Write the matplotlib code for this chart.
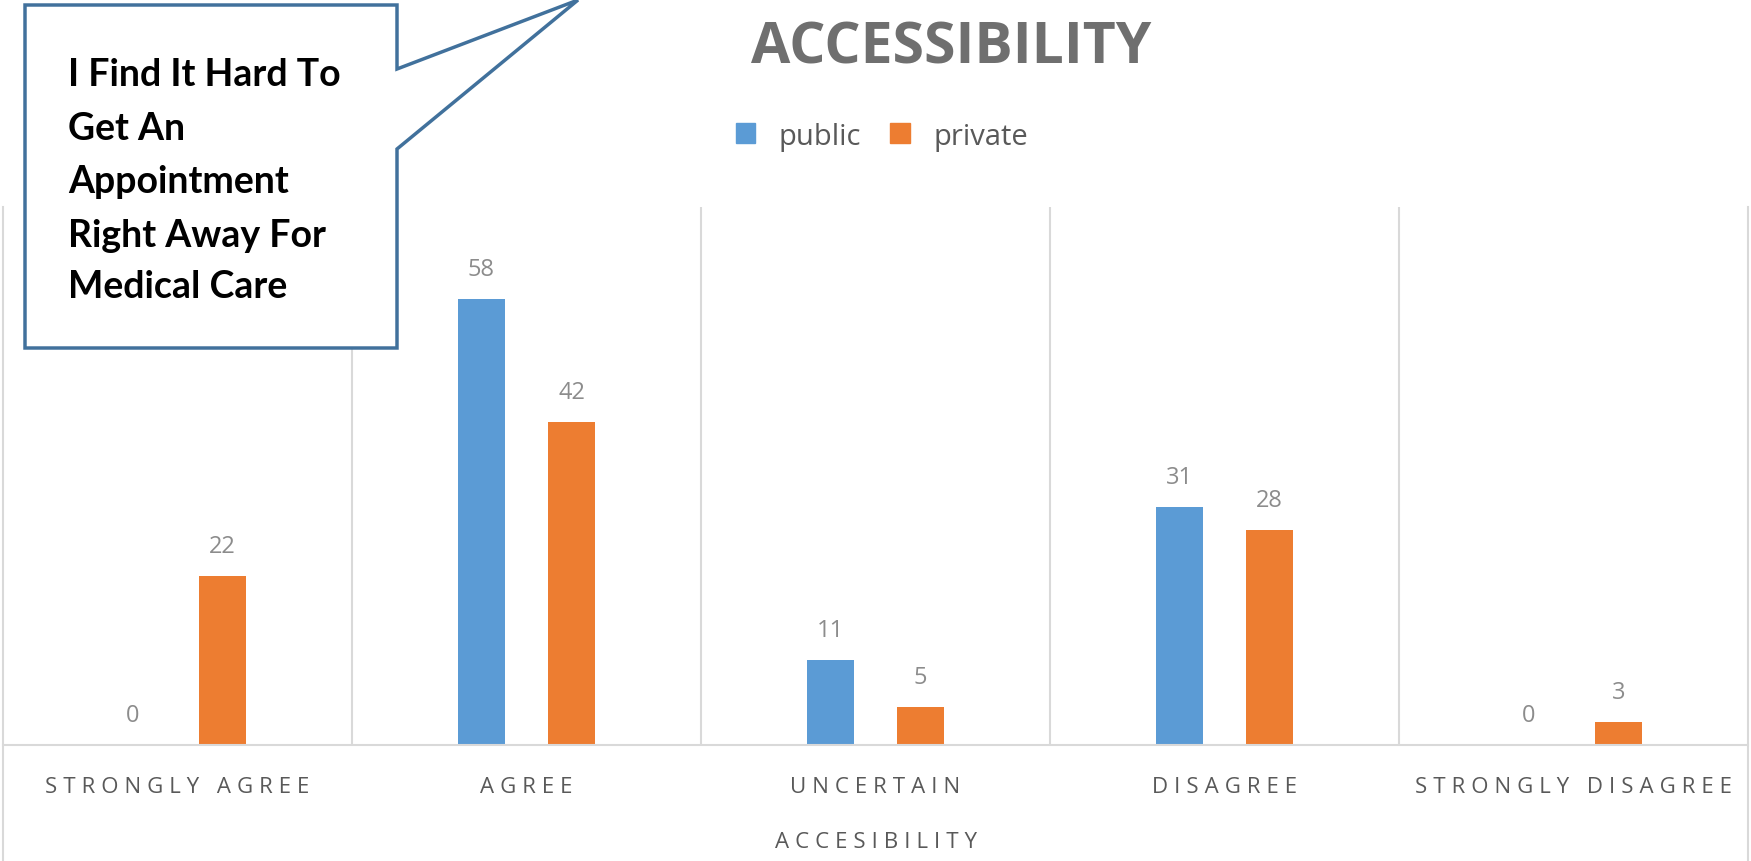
import matplotlib
matplotlib.use("Agg")
import matplotlib.pyplot as plt
from matplotlib.patches import Polygon, Patch
from matplotlib.lines import Line2D
import numpy as np

# data
categories = ["STRONGLY AGREE", "AGREE", "UNCERTAIN", "DISAGREE", "STRONGLY DISAGREE"]
public = [0, 58, 11, 31, 0]
private = [22, 42, 5, 28, 3]
series_names = ["public", "private"]
callout_lines = ["I Find It Hard To", "Get An", "Appointment", "Right Away For", "Medical Care"]

BLUE = "#5b9bd5"
ORANGE = "#ed7d31"
GRID = "#d9d9d9"
W, H = 1751, 862


def spaced(s, sep="\u2009\u200a"):
    # poor man's letter spacing
    return sep.join(list(s))


def fx(x):
    return x / W


def fy(y):
    return 1 - y / H


fig = plt.figure(figsize=(W / 100, H / 100), dpi=100)
ax = fig.add_axes([fx(3), fy(746), fx(1748) - fx(3), fy(208) - fy(746)])

x = np.arange(len(categories))
bw = 0.135
off = 0.129
b1 = ax.bar(x - off, public, bw, color=BLUE, zorder=2)
b2 = ax.bar(x + off, private, bw, color=ORANGE, zorder=2)

for bars, vals in ((b1, public), (b2, private)):
    for r, v in zip(bars, vals):
        ax.annotate(str(v), (r.get_x() + r.get_width() / 2, v), xytext=(0, 13),
                    textcoords="offset points", ha="center", va="bottom",
                    fontsize=17, color="#8c8c8c", family="Open Sans")

ax.set_xlim(-0.5, len(categories) - 0.5)
ax.set_ylim(0, 70)
ax.set_yticks([])
ax.set_xticks(x)
ax.set_xticklabels([spaced(c) for c in categories], fontsize=16, color="#595959",
                   family=["Open Sans", "DejaVu Sans"])
ax.tick_params(axis="x", length=0, pad=22)
for s in ["top", "left", "right"]:
    ax.spines[s].set_visible(False)
ax.spines["bottom"].set_color(GRID)
ax.spines["bottom"].set_linewidth(1.5)

# category separators
for b in np.arange(1, len(categories)) - 0.5:
    ax.axvline(b, color=GRID, lw=1.5, zorder=1)

# chart border pieces at the edges
fig.add_artist(Line2D([fx(3), fx(3)], [0, fy(208)], color=GRID, lw=1.5))
fig.add_artist(Line2D([fx(1748), fx(1748)], [0, fy(208)], color=GRID, lw=1.5))

ax.set_xlabel(spaced("ACCESIBILITY"), fontsize=16, color="#595959",
              family=["Open Sans", "DejaVu Sans"], labelpad=25)

fig.text(0.543, fy(49), "ACCESSIBILITY", ha="center", va="center", fontsize=41,
         fontweight="bold", color="#6f6f6f", family="Open Sans")

handles = [Patch(color=BLUE), Patch(color=ORANGE)]
fig.legend(handles, series_names, loc="center", bbox_to_anchor=(fx(882), fy(137)),
           ncol=2, frameon=False, handlelength=0.68, handleheight=0.68,
           handletextpad=0.8, columnspacing=1.0, labelcolor="#595959",
           prop={"family": "Open Sans", "size": 21})

# speech bubble callout
pts = [(25, 6), (397, 6), (397, 70), (578, 1), (397, 150), (397, 349), (25, 349)]
fig.add_artist(Polygon([(fx(a), fy(b)) for a, b in pts], closed=True,
                       facecolor="white", edgecolor="#41719c", lw=2.5, zorder=5))
line_y = [75, 129, 182, 236, 287]
for t, yy in zip(callout_lines, line_y):
    fig.text(fx(68), fy(yy), t, ha="left", va="center", fontsize=27,
             fontweight="bold", color="black", family="Lato", zorder=6)

fig.savefig("out.png", dpi=100, facecolor="white")
